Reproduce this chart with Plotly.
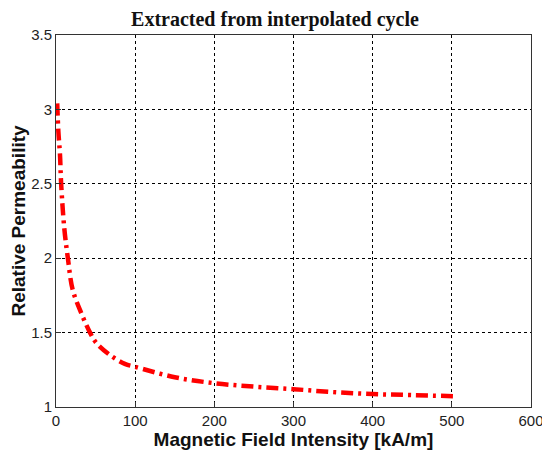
import plotly.graph_objects as go

H = [1.5, 3, 5, 6.5, 10.5, 15, 21, 32, 43, 51, 68, 87, 100, 150, 200, 250, 300, 350, 400, 450, 506]
mu = [3.04, 2.85, 2.7, 2.5, 2.2, 2.0, 1.79, 1.63, 1.5, 1.43, 1.35, 1.29, 1.27, 1.20, 1.16, 1.137, 1.12, 1.10, 1.087, 1.08, 1.072]

x_ticks = [0, 100, 200, 300, 400, 500, 600]
y_ticks = [1, 1.5, 2, 2.5, 3, 3.5]

fig = go.Figure()
fig.add_trace(go.Scatter(
    x=H, y=mu, mode="lines", line_shape="spline",
    line=dict(color="#ff0000", width=4.5, dash="12px,5px,3px,5px"),
    showlegend=False,
))

axis_common = dict(
    showgrid=True, gridcolor="black", gridwidth=1, griddash="dot",
    showline=True, linecolor="#333333", linewidth=1, mirror=True,
    ticks="inside", ticklen=5, tickcolor="#333333",
    zeroline=False, automargin=False,
    tickfont=dict(family="Liberation Sans, Arial", size=15, color="#222222"),
)

fig.update_layout(
    width=550, height=457,
    margin=dict(l=48, r=27, t=27, b=58),
    paper_bgcolor="white", plot_bgcolor="white",
    title=dict(text="<b>Extracted from interpolated cycle</b>", x=267 / 550, xanchor="center",
               y=1 - 4 / 457, yanchor="top", pad=dict(t=0),
               font=dict(family="Liberation Serif, DejaVu Serif", size=20, color="#111111")),
    xaxis=dict(range=[0, 600], tickvals=x_ticks, **axis_common,
               title=dict(text="<b>Magnetic Field Intensity [kA/m]</b>", standoff=0,
                          font=dict(family="Liberation Sans, Arial", size=19, color="#111111"))),
    yaxis=dict(range=[1, 3.5], tickvals=y_ticks, **axis_common,
               title=dict(text="<b>Relative Permeability</b>", standoff=0,
                          font=dict(family="Liberation Sans, Arial", size=19, color="#111111"))),
)

fig.write_html("out.html")
